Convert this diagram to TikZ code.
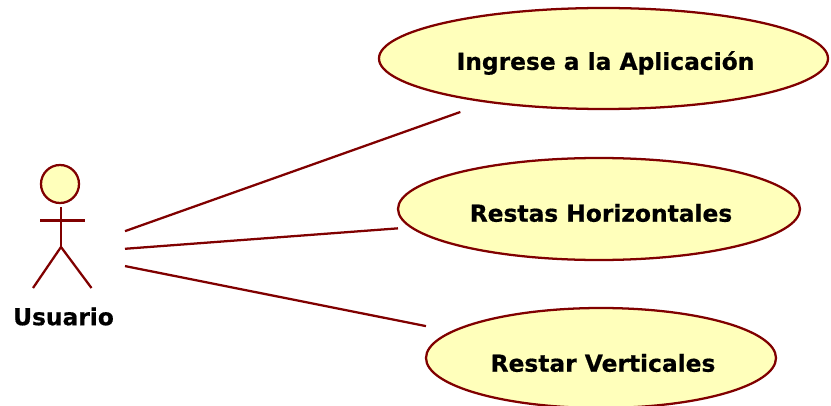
\documentclass[tikz,border=0pt]{standalone}
\usepackage{fontspec}
\setmainfont{DejaVu Sans}[BoldFeatures={FakeBold=0.6}]
\tikzset{every picture/.style={line width=1.7pt}}
\definecolor{umlline}{RGB}{128,0,0}
\definecolor{umlfill}{RGB}{255,255,187}
\tikzset{
  usecase/.style={draw=umlline,fill=umlfill},
  stickline/.style={draw=umlline,line cap=butt},
  linkline/.style={draw=umlline},
  hitbox/.style={inner sep=0pt,outer sep=0pt},
  caption/.style={inner sep=0pt,font=\fontsize{17.5}{20}\selectfont\bfseries,text=black},
}
\begin{document}
\begin{tikzpicture}[x=0.75pt,y=0.75pt,yscale=-1,xscale=1]
\useasboundingbox (0,0) rectangle (831,406);

%Actor
\draw [usecase] (60,184) circle (19);
\draw [stickline] (61,207) -- (61,247);
\draw [stickline] (40,220.5) -- (85,220.5);
\draw [stickline] (33,288) -- (61,247) -- (91.5,288);

%Use cases
\draw [usecase] (603.5,58.5) ellipse (224.5 and 50.5);
\draw [usecase] (599,209) ellipse (201 and 51);
\draw [usecase] (601,358) ellipse (175 and 50);

%Boxes the links stop at
\node [hitbox,minimum width=94.5pt,minimum height=60pt] (usuario) at (62,253.5) {};
\node [hitbox,minimum width=336.75pt,minimum height=76.5pt] (ingrese) at (603.5,61) {};
\node [hitbox,minimum width=301.5pt,minimum height=76.5pt] (horizontales) at (599,213.4) {};
\node [hitbox,minimum width=262.5pt,minimum height=75pt] (verticales) at (601,361) {};

%Links
\draw [linkline] (usuario) -- (ingrese);
\draw [linkline] (usuario) -- (horizontales);
\draw [linkline] (usuario) -- (verticales);

% Text Node
\node [caption] (usuariotxt) at (63.5,316.5) {Usuario};
\node [caption] (ingresetxt) at (605.5,63) {Ingrese a la Aplicación};
\node [caption] (horizontalestxt) at (601,213) {Restas Horizontales};
\node [caption] (verticalestxt) at (603,363) {Restar Verticales};
\end{tikzpicture}
\end{document}
